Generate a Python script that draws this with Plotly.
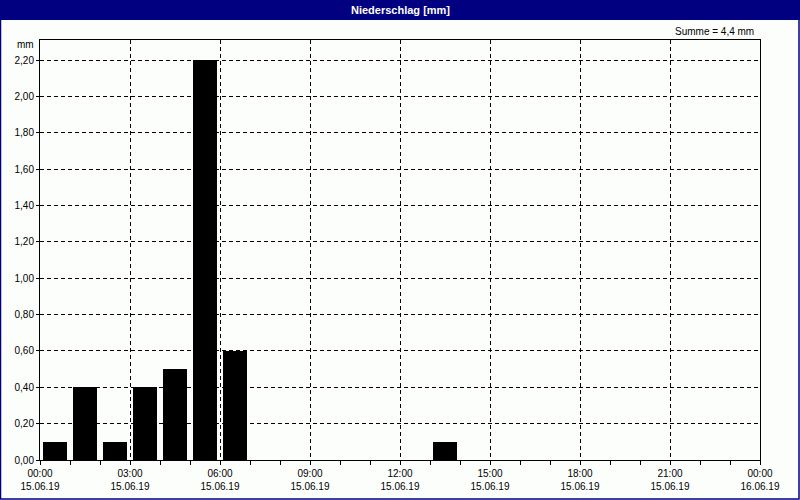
import plotly.graph_objects as go

# Data: hourly precipitation (mm), bar centred in each hour
hours = ["2019-06-15 00:30", "2019-06-15 01:30", "2019-06-15 02:30", "2019-06-15 03:30",
         "2019-06-15 04:30", "2019-06-15 05:30", "2019-06-15 06:30", "2019-06-15 13:30"]
precip = [0.1, 0.4, 0.1, 0.4, 0.5, 2.2, 0.6, 0.1]

tick_vals = ["2019-06-15 00:00", "2019-06-15 03:00", "2019-06-15 06:00", "2019-06-15 09:00",
             "2019-06-15 12:00", "2019-06-15 15:00", "2019-06-15 18:00", "2019-06-15 21:00",
             "2019-06-16 00:00"]
tick_text = ["00:00<br>15.06.19", "03:00<br>15.06.19", "06:00<br>15.06.19", "09:00<br>15.06.19",
             "12:00<br>15.06.19", "15:00<br>15.06.19", "18:00<br>15.06.19", "21:00<br>15.06.19",
             "00:00<br>16.06.19"]
y_ticks = [0, 0.2, 0.4, 0.6, 0.8, 1.0, 1.2, 1.4, 1.6, 1.8, 2.0, 2.2]

title = "Niederschlag [mm]"
summe = "Summe = 4,4 mm"

BG = "#FCFEFC"
NAVY = "#000080"
FONT = "Liberation Sans"

fig = go.Figure()
fig.add_trace(go.Bar(
    x=hours, y=precip, width=0.8 * 3600000,
    marker=dict(color="#000000", line=dict(width=0)),
    hoverinfo="x+y",
))

W, H = 800, 500
L, R, T, B = 40, 40, 40, 40
pw, ph = W - L - R, H - T - B

def px_x(p):
    return (p - L) / pw

def px_y(p):
    return (H - B - p) / ph

shapes = [
    # title bar
    dict(type="rect", xref="paper", yref="paper", x0=px_x(0), x1=px_x(W), y0=px_y(20), y1=px_y(0),
         fillcolor=NAVY, line=dict(width=0), layer="above"),
    # window border
    dict(type="rect", xref="paper", yref="paper", x0=px_x(0.5), x1=px_x(W - 1), y0=px_y(H - 1), y1=px_y(0.5),
         fillcolor="rgba(0,0,0,0)", line=dict(color=NAVY, width=1.5), layer="above"),
]

annotations = [
    dict(text="<b>" + title + "</b>", xref="paper", yref="paper", x=0.5, y=px_y(10),
         xanchor="center", yanchor="middle", showarrow=False,
         font=dict(family=FONT, size=11, color="white")),
    dict(text=summe, xref="paper", yref="paper", x=px_x(756), y=px_y(31),
         xanchor="right", yanchor="middle", showarrow=False,
         font=dict(family=FONT, size=10, color="black")),
    dict(text="mm", xref="paper", yref="paper", x=px_x(36), y=px_y(45),
         xanchor="right", yanchor="middle", showarrow=False,
         font=dict(family=FONT, size=10, color="black")),
]

fig.update_layout(
    template="none",
    width=W, height=H,
    margin=dict(l=L, r=R, t=T, b=B, pad=0),
    paper_bgcolor=BG, plot_bgcolor=BG,
    separators=",.",
    showlegend=False,
    bargap=0,
    font=dict(family=FONT, size=10, color="black"),
    shapes=shapes,
    annotations=annotations,
    xaxis=dict(
        type="date", automargin=False,
        range=["2019-06-15 00:00", "2019-06-16 00:00"],
        tickmode="array", tickvals=tick_vals, ticktext=tick_text,
        ticks="outside", ticklen=4, tickcolor="black", tickwidth=1,
        showgrid=True, gridcolor="black", gridwidth=1, griddash="4px,3px",
        showline=True, linecolor="black", linewidth=1, mirror=True,
        zeroline=False,
        minor=dict(dtick=3600000, ticks="outside", ticklen=4, tickcolor="black", showgrid=False),
        tickfont=dict(family=FONT, size=10),
    ),
    yaxis=dict(
        automargin=False,
        range=[0, 2.31],
        tickmode="array", tickvals=y_ticks, tickformat=".2f",
        ticks="outside", ticklen=3, tickcolor="black", tickwidth=1,
        showgrid=True, gridcolor="black", gridwidth=1, griddash="4px,3px",
        showline=True, linecolor="black", linewidth=1, mirror=True,
        zeroline=False,
        tickfont=dict(family=FONT, size=10),
    ),
)

fig.write_html(
    "out.html",
    config={"displayModeBar": False},
    post_script="document.body.style.margin='0';document.body.style.overflow='hidden';",
)
